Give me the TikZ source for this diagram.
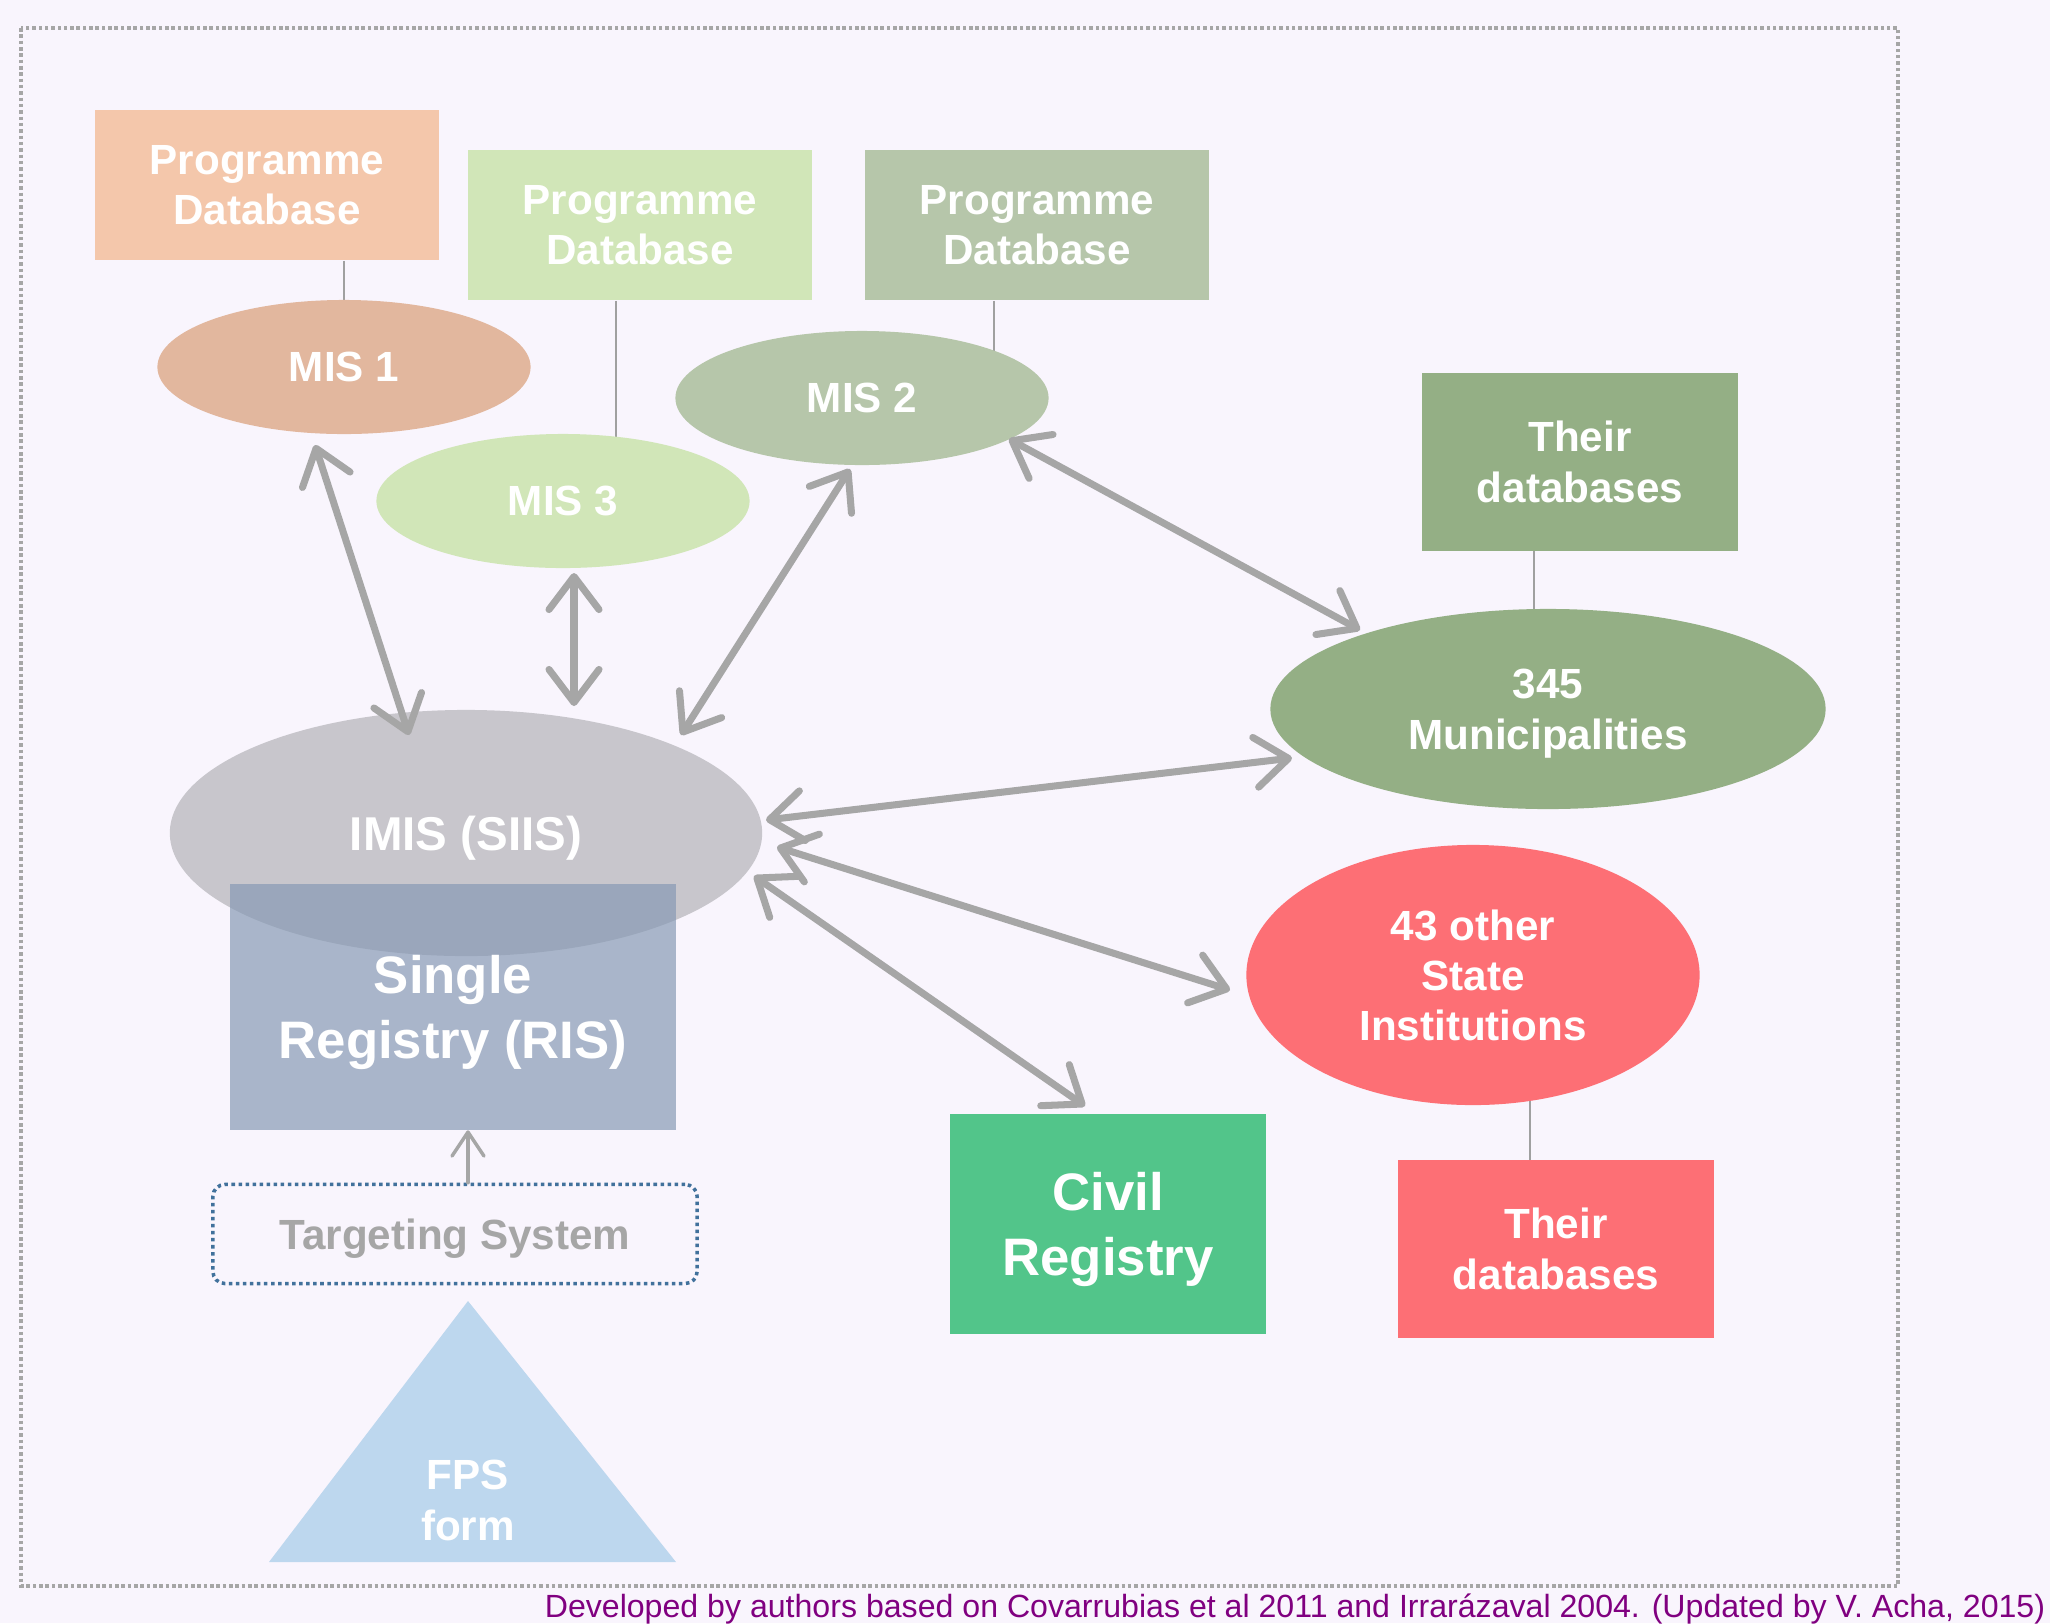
\documentclass[tikz,border=0pt]{standalone}
\usepackage{fontspec}
\setmainfont{Liberation Sans}
\usepackage{tikz}
\usetikzlibrary{arrows.meta,calc,shapes.geometric,backgrounds}
\definecolor{pagebg}{RGB}{249,245,253}
\definecolor{peach}{RGB}{244,199,171}
\definecolor{salmon}{RGB}{226,183,158}
\definecolor{pale}{RGB}{209,230,184}
\definecolor{sage}{RGB}{182,198,170}
\definecolor{moss}{RGB}{148,175,133}
\definecolor{imisgrey}{RGB}{200,198,204}
\definecolor{risblue}{RGB}{134,153,180}
\definecolor{tsblue}{RGB}{65,113,156}
\definecolor{fpsblue}{RGB}{189,215,238}
\definecolor{civgreen}{RGB}{82,197,138}
\definecolor{stred}{RGB}{253,111,117}
\definecolor{arrowgrey}{RGB}{166,166,166}
\definecolor{linkgrey}{RGB}{160,160,160}
\definecolor{notepurple}{RGB}{128,0,128}

\begin{document}
\begin{tikzpicture}[x=0.01cm, y=-0.01cm, >={Straight Barb[length=3.3mm,width=5mm,round]}]
  \tikzset{lbl/.style={align=center, text=white, text opacity=1, text depth=0pt, font=\bfseries\fontsize{12}{14.4}\selectfont, inner sep=0pt},
    db/.style={lbl, rectangle, minimum width=3.44cm, minimum height=1.5cm},
    mis/.style={lbl, ellipse, minimum width=3.73cm, minimum height=1.34cm},
    big/.style={font=\bfseries\fontsize{15}{18.4}\selectfont},
    link/.style={draw=linkgrey, line width=0.6pt},
    dbl/.style={draw=arrowgrey, line width=2pt, line cap=round, <->}}
  \useasboundingbox (0,0) rectangle (2050,1623);
  % programme databases and their MIS
  \node[db, fill=peach] (pd1) at (267,185) {Programme\\Database};
  \node[db, fill=pale] (pd2) at (640,225) {Programme\\Database};
  \node[db, fill=sage] (pd3) at (1037,225) {Programme\\Database};
  \node[mis, fill=salmon] (mis1) at (344,367) {MIS 1};
  \node[mis, fill=pale] (mis3) at (563,501) {MIS 3};
  \node[mis, fill=sage] (mis2) at (862,398) {MIS 2};
  % other institutions
  \node[db, fill=moss, minimum width=3.16cm, minimum height=1.77cm] (tdb1) at (1580,462) {Their\\databases};
  \node[lbl, ellipse, fill=moss, minimum width=5.55cm, minimum height=2cm] (muni) at (1548,709) {345\\Municipalities};
  \node[lbl, ellipse, fill=stred, minimum width=4.53cm, minimum height=2.6cm, font=\bfseries\fontsize{12}{14.2}\selectfont] (inst) at (1473,975) {43 other\\State\\Institutions};
  \node[db, fill=stred, minimum width=3.15cm, minimum height=1.77cm] (tdb2) at (1556,1249) {Their\\databases};
  \node[lbl, big, fill=civgreen, minimum width=3.16cm, minimum height=2.19cm] (civil) at (1108,1224) {Civil\\Registry};
  % central system
  \node[lbl, ellipse, fill=imisgrey, minimum width=5.92cm, minimum height=2.46cm, font=\bfseries\fontsize{13.5}{16}\selectfont] (imis) at (466,833) {IMIS (SIIS)};
  \node[lbl, big, fill=risblue, fill opacity=0.69, minimum width=4.46cm, minimum height=2.45cm] (ris) at (453,1007) {Single\\Registry (RIS)};
  \node[lbl, draw=tsblue, line width=1pt, dash pattern=on 1pt off 1pt, rounded corners=1.2mm, text=arrowgrey, minimum width=4.84cm, minimum height=0.99cm] (ts) at (455,1234) {Targeting System};
  \coordinate (apex) at (468,1301);
  \fill[fpsblue] (269,1562) -- (apex) -- (676,1562) -- cycle;
  \node[lbl] (fps) at (468,1500) {FPS\\form};
  \node[anchor=base east, text=notepurple, inner sep=0pt, font=\fontsize{9.13}{11}\selectfont] (note) at (2046,1617) {Developed by authors based on Covarrubias et al 2011 and Irrar\'azaval 2004. (Updated by V. Acha, 2015)};

  \begin{scope}[on background layer]
    \fill[pagebg] (0,0) rectangle (2050,1623);
    \draw[draw=arrowgrey, line width=1pt, dash pattern=on 1pt off 0.8pt] (21,28) rectangle (1898,1586);
    \draw[link] (mis1.center |- pd1.south) -- (mis1.center);
    \draw[link] ([xshift=-2.4mm]pd2.south) -- ([xshift=-2.4mm]pd2.south |- mis3.center);
    \draw[link] ([xshift=-4.3mm]pd3.south) -- ([xshift=-4.3mm]pd3.south |- mis2.center);
    \draw[link] ([xshift=-4.6mm]tdb1.south) -- ([xshift=-4.6mm]tdb1.south |- muni.center);
    \draw[link] ([xshift=-2.6mm]tdb2.north) -- ([xshift=-2.6mm]tdb2.north |- inst.center);
  \end{scope}

  \draw[dbl] ([shift={(-29,78)}]mis1.center) -- ([shift={(-57,-98)}]imis.center);
  \draw[dbl] ([shift={(11,72)}]mis3.center) -- ([shift={(108,-127)}]imis.center);
  \draw[dbl] ([shift={(-12,71)}]mis2.center) -- ([shift={(215,-98)}]imis.center);
  \draw[dbl] ([shift={(147,41)}]mis2.center) -- ([shift={(-188,-79)}]muni.center);
  \draw[dbl] ([shift={(300,-13)}]imis.center) -- ([shift={(-256,49)}]muni.center);
  \draw[dbl] ([shift={(311,14)}]imis.center) -- ([shift={(-243,15)}]inst.center);
  \draw[dbl] ([shift={(288,43)}]imis.center) -- ([shift={(-23,-118)}]civil.center);
  \draw[draw=arrowgrey, line width=1pt, line cap=round, -{Straight Barb[length=2.4mm,width=3.2mm,round]}] (ts.north -| apex) -- (ris.south -| apex);
\end{tikzpicture}
\end{document}
